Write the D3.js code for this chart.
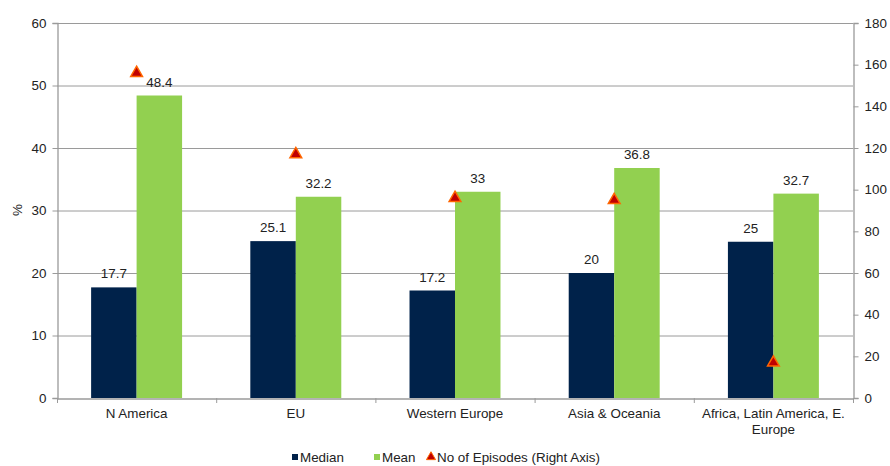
<!DOCTYPE html>
<html><head><meta charset="utf-8">
<script src="https://cdn.jsdelivr.net/npm/d3@7"></script>
<style>body{margin:0;background:#fff;font-family:"Liberation Sans",Arial,sans-serif;}</style>
</head><body><svg id="c" width="890" height="466"></svg>
<script>
const categories = ["N America","EU","Western Europe","Asia & Oceania","Africa, Latin America, E. Europe"];
const median = [17.7, 25.1, 17.2, 20, 25];
const mean = [48.4, 32.2, 33, 36.8, 32.7];
const episodes = [156, 117, 96, 95, 17];
const leftTicks = [0,10,20,30,40,50,60];
const rightTicks = [0,20,40,60,80,100,120,140,160,180];

const svg = d3.select("#c");
const m = {l:57, r:853, t:23, b:398};
const x = d3.scaleBand().domain(categories).range([m.l, m.r]);
const y = d3.scaleLinear().domain([0,60]).range([m.b, m.t]);
const y2 = d3.scaleLinear().domain([0,180]).range([m.b, m.t]);
const bw = x.bandwidth()*0.2857;
const font = "Liberation Sans, Arial, sans-serif";
const fs = 13.4;
const axisCol = "#9a9a9a";

// gridlines
svg.append("g").selectAll("line").data(leftTicks.filter(d=>d>0)).join("line")
  .attr("x1", m.l).attr("x2", m.r).attr("y1", d=>y(d)+0.5).attr("y2", d=>y(d)+0.5)
  .attr("stroke", axisCol).attr("stroke-width", 1);

// bars
const g = svg.append("g");
g.selectAll(".med").data(categories).join("rect")
  .attr("x", d=>x(d)+x.bandwidth()/2-bw).attr("width", bw)
  .attr("y", (d,i)=>y(median[i])).attr("height", (d,i)=>y(0)-y(median[i]))
  .attr("fill", "#00224a");
g.selectAll(".mean").data(categories).join("rect")
  .attr("x", d=>x(d)+x.bandwidth()/2).attr("width", bw)
  .attr("y", (d,i)=>y(mean[i])).attr("height", (d,i)=>y(0)-y(mean[i]))
  .attr("fill", "#92d050");

// axes
const la = d3.axisLeft(y).tickValues(leftTicks).tickSize(5).tickPadding(6);
const lg = svg.append("g").attr("transform", `translate(${m.l+0.5},0)`).call(la);
const ra = d3.axisRight(y2).tickValues(rightTicks).tickSize(5).tickPadding(6);
const rg = svg.append("g").attr("transform", `translate(${m.r+0.5},0)`).call(ra);
const ba = d3.axisBottom(x).tickSize(0).tickFormat("");
const bg = svg.append("g").attr("transform", `translate(0,${m.b+0.5})`).call(ba);
[lg,rg,bg].forEach(a=>{
  a.selectAll("path").attr("stroke", axisCol).attr("stroke-width",1.3);
  a.selectAll("line").attr("stroke", axisCol);
  a.selectAll("text").attr("font-family", font).attr("font-size", fs).attr("fill","#222");
});
// category boundary ticks
const bounds = categories.map(c=>x(c)).concat([m.r]);
svg.append("g").selectAll("line").data(bounds).join("line")
  .attr("x1", d=>d+0.5).attr("x2", d=>d+0.5).attr("y1", m.b).attr("y2", m.b+5)
  .attr("stroke", axisCol);

// category labels
const cl = svg.append("g").selectAll("text").data(categories).join("text")
  .attr("x", d=>x(d)+x.bandwidth()/2).attr("y", 418)
  .attr("text-anchor","middle").attr("font-family", font).attr("font-size", fs).attr("fill","#222");
cl.each(function(d){
  const t = d3.select(this);
  if (d.startsWith("Africa")) {
    t.append("tspan").attr("x", x(d)+x.bandwidth()/2).text("Africa, Latin America, E.");
    t.append("tspan").attr("x", x(d)+x.bandwidth()/2).attr("dy", 16).text("Europe");
  } else t.text(d);
});

// value labels
const vl = svg.append("g").attr("font-family", font).attr("font-size", fs).attr("fill","#222").attr("text-anchor","middle");
vl.selectAll(".ml").data(categories).join("text")
  .attr("x", d=>x(d)+x.bandwidth()/2-bw/2).attr("y",(d,i)=>y(median[i])-9).text((d,i)=>median[i]);
vl.selectAll(".mnl").data(categories).join("text")
  .attr("x", d=>x(d)+x.bandwidth()/2+bw/2).attr("y",(d,i)=>y(mean[i])-9).text((d,i)=>mean[i]);

// triangles
const tri = d3.symbol().type(d3.symbolTriangle).size(60);
svg.append("g").selectAll("path").data(categories).join("path")
  .attr("d", tri)
  .attr("transform", (d,i)=>`translate(${x(d)+x.bandwidth()/2},${y2(episodes[i])})`)
  .attr("fill", "#c00000").attr("stroke", "#ff6600").attr("stroke-width", 1.5);

// y title
svg.append("text").attr("transform","translate(22,210) rotate(-90)").attr("text-anchor","middle")
  .attr("font-family", font).attr("font-size", fs).attr("fill","#222").text("%");

// legend
const leg = svg.append("g").attr("font-family", font).attr("font-size", fs).attr("fill","#222");
leg.append("rect").attr("x",292).attr("y",454).attr("width",6).attr("height",6).attr("fill","#00224a");
leg.append("text").attr("x",300).attr("y",462).text("Median");
leg.append("rect").attr("x",374).attr("y",454).attr("width",6).attr("height",6).attr("fill","#92d050");
leg.append("text").attr("x",382).attr("y",462).text("Mean");
leg.append("path").attr("d", d3.symbol().type(d3.symbolTriangle).size(36))
  .attr("transform","translate(431,457)").attr("fill","#c00000").attr("stroke","#ff6600").attr("stroke-width",1);
leg.append("text").attr("x",437).attr("y",462).text("No of Episodes (Right Axis)");
</script></body></html>
